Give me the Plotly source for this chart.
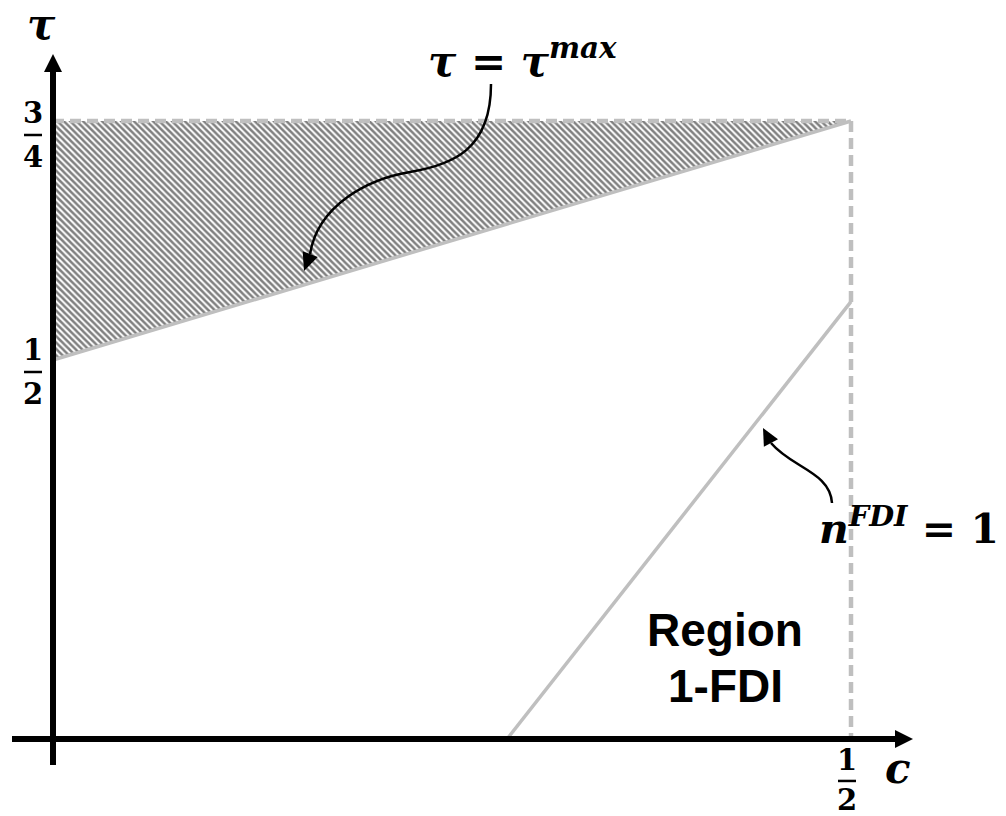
import plotly.graph_objects as go

# ---------------- diagram values: c (horizontal) and tau (vertical) ----------------
tau_axis_level = 0.1036      # tau level at which the c-axis is drawn
c_axis_level = 0.0           # c level at which the tau-axis is drawn

# boundary tau = tau^max
tau_max_c = [0.0, 0.5]
tau_max_tau = [0.5, 0.75]

# boundary n^FDI = 1
nfdi_c = [0.2845, 0.5]
nfdi_tau = [0.1036, 0.561]

# hatched region between tau^max and 3/4
hatch_c = [0.0, 0.5, 0.0, 0.0]
hatch_tau = [0.75, 0.75, 0.5, 0.75]

# tick fractions
c_tick_vals = [0.5]
c_tick_num = ["1"]
c_tick_den = ["2"]
tau_tick_vals = [0.5, 0.75]
tau_tick_num = ["1", "3"]
tau_tick_den = ["2", "4"]

# ---------------- canvas / scale ----------------
W, H = 1006, 816
PX_PER_C = 1596.0
PX_PER_TAU = 956.0
X0_PX = 53.0        # pixel column of c = 0
Y_HALF_PX = 360.0   # pixel row of tau = 1/2

x_range = [-X0_PX / PX_PER_C, (W - X0_PX) / PX_PER_C]
y_range = [0.5 - (H - Y_HALF_PX) / PX_PER_TAU, 0.5 + Y_HALF_PX / PX_PER_TAU]


def to_px(c, t):
    return X0_PX + c * PX_PER_C, Y_HALF_PX - (t - 0.5) * PX_PER_TAU


def to_data(px, py):
    return (px - X0_PX) / PX_PER_C, 0.5 + (Y_HALF_PX - py) / PX_PER_TAU


def pt(px, py):
    c, t = to_data(px, py)
    return f"{c:.5f},{t:.5f}"


def arrow_head(tip, frm, length, half_w):
    tx, ty = tip
    fx, fy = frm
    dx, dy = tx - fx, ty - fy
    n = (dx * dx + dy * dy) ** 0.5
    ux, uy = dx / n, dy / n
    bx, by = tx - ux * length, ty - uy * length
    px_, py_ = -uy, ux
    a = (bx + px_ * half_w, by + py_ * half_w)
    b = (bx - px_ * half_w, by - py_ * half_w)
    return f"M {pt(*tip)} L {pt(*a)} L {pt(*b)} Z"


GRAY = "#bfbfbf"
MATH_FONT = "DejaVu Serif"
SANS_FONT = "Liberation Sans"

fig = go.Figure()

# hatched band above the tau^max boundary
fig.add_trace(go.Scatter(
    x=hatch_c, y=hatch_tau, mode="lines", fill="toself",
    line=dict(width=0, color="rgba(0,0,0,0)"),
    fillcolor="white",
    fillpattern=dict(shape="\\", fgcolor="black", bgcolor="white",
                     size=4.5, solidity=0.55),
    hoverinfo="skip", showlegend=False,
))

# tau = 3/4 cap (dashed) and c = 1/2 limit (dashed)
fig.add_trace(go.Scatter(
    x=[c_axis_level, tau_max_c[1]], y=[tau_max_tau[1], tau_max_tau[1]],
    mode="lines", line=dict(color=GRAY, width=4.5, dash="11px,6px"),
    hoverinfo="skip", showlegend=False,
))
fig.add_trace(go.Scatter(
    x=[c_tick_vals[0], c_tick_vals[0]], y=[tau_max_tau[1], tau_axis_level],
    mode="lines", line=dict(color=GRAY, width=4.5, dash="11px,6px"),
    hoverinfo="skip", showlegend=False,
))

# boundaries
fig.add_trace(go.Scatter(
    x=tau_max_c, y=tau_max_tau, mode="lines",
    line=dict(color=GRAY, width=3.5), hoverinfo="skip", showlegend=False,
))
fig.add_trace(go.Scatter(
    x=nfdi_c, y=nfdi_tau, mode="lines",
    line=dict(color=GRAY, width=3.5), hoverinfo="skip", showlegend=False,
))

shapes = []
annotations = []

# ---- axes with arrowheads ----
ox, oy = to_px(c_axis_level, tau_axis_level)
tau_top_px = to_px(0, tau_tick_vals[-1])[1] - 67
c_right_px = to_px(c_tick_vals[-1], 0)[0] + 62
# tau axis
x0, y0 = to_data(ox, oy + 26)
x1, y1 = to_data(ox, tau_top_px + 16)
shapes.append(dict(type="line", x0=x0, y0=y0, x1=x1, y1=y1,
                   line=dict(color="black", width=6), layer="above"))
shapes.append(dict(type="path", path=arrow_head((ox, tau_top_px), (ox, oy), 18, 9),
                   fillcolor="black", line=dict(width=0), layer="above"))
# c axis
x0, y0 = to_data(ox - 41, oy)
x1, y1 = to_data(c_right_px - 16, oy)
shapes.append(dict(type="line", x0=x0, y0=y0, x1=x1, y1=y1,
                   line=dict(color="black", width=6), layer="above"))
shapes.append(dict(type="path", path=arrow_head((c_right_px, oy), (ox, oy), 18, 9),
                   fillcolor="black", line=dict(width=0), layer="above"))

# ---- tick fractions ----
FRAC = dict(family=MATH_FONT, size=29, color="black", weight="bold")
for v, num, den in zip(tau_tick_vals, tau_tick_num, tau_tick_den):
    cx, cy = to_px(c_axis_level, v)
    cx -= 20
    bar = cy + (14 if v == 0.75 else 12)
    for txt, yy in ((num, bar - 22), (den, bar + 22)):
        ac, at = to_data(cx, yy)
        annotations.append(dict(x=ac, y=at, text=txt, showarrow=False,
                                font=FRAC, xanchor="center", yanchor="middle"))
    bx0, by = to_data(cx - 9, bar)
    bx1, _ = to_data(cx + 9, bar)
    shapes.append(dict(type="line", x0=bx0, x1=bx1, y0=by, y1=by,
                       line=dict(color="black", width=2.5)))

for v, num, den in zip(c_tick_vals, c_tick_num, c_tick_den):
    cx, cy = to_px(v, tau_axis_level)
    cx -= 4
    bar = cy + 42
    for txt, yy in ((num, bar - 21), (den, bar + 19)):
        ac, at = to_data(cx, yy)
        annotations.append(dict(x=ac, y=at, text=txt, showarrow=False,
                                font=FRAC, xanchor="center", yanchor="middle"))
    bx0, by = to_data(cx - 9, bar)
    bx1, _ = to_data(cx + 9, bar)
    shapes.append(dict(type="line", x0=bx0, x1=bx1, y0=by, y1=by,
                       line=dict(color="black", width=2.5)))

# ---- axis titles ----
MATH = dict(family=MATH_FONT, size=42, color="black", weight="bold", style="italic")
ac, at = to_data(41, 24)
annotations.append(dict(x=ac, y=at, text="τ", showarrow=False, font=MATH,
                        xanchor="center", yanchor="middle"))
ac, at = to_data(898, 768)
annotations.append(dict(x=ac, y=at, text="c", showarrow=False, font=MATH,
                        xanchor="center", yanchor="middle"))

# ---- boundary labels ----
ac, at = to_data(522, 58)
annotations.append(dict(x=ac, y=at, text="<i>τ</i> = <i>τ</i><sup><i>max</i></sup>",
                        showarrow=False, xanchor="center", yanchor="middle",
                        font=dict(family=MATH_FONT, size=42, color="black", weight="bold")))
ac, at = to_data(1001, 526)
annotations.append(dict(x=ac, y=at, text="<i>n</i><sup><i>FDI</i></sup> = 1",
                        showarrow=False, xanchor="right", yanchor="middle",
                        font=dict(family=MATH_FONT, size=41, color="black", weight="bold")))

# ---- region name ----
REG = dict(family=SANS_FONT, size=46, color="black", weight="bold")
for txt, yy in (("Region", 630), ("1-FDI", 686)):
    ac, at = to_data(725, yy)
    annotations.append(dict(x=ac, y=at, text=txt, showarrow=False, font=REG,
                            xanchor="center", yanchor="middle"))

# ---- callout arrows ----
curve1 = (f"M {pt(491, 84)} C {pt(491, 150)} {pt(452, 165)} {pt(410, 172)} "
          f"S {pt(318, 205)} {pt(310, 254)}")
shapes.append(dict(type="path", path=curve1, line=dict(color="black", width=2.5)))
shapes.append(dict(type="path", path=arrow_head((304, 271), (311, 252), 18, 8),
                   fillcolor="black", line=dict(width=0)))

curve2 = f"M {pt(832, 503)} C {pt(830, 472)} {pt(792, 468)} {pt(771, 443)}"
shapes.append(dict(type="path", path=curve2, line=dict(color="black", width=2.5)))
shapes.append(dict(type="path", path=arrow_head((763, 428), (772, 445), 17, 8),
                   fillcolor="black", line=dict(width=0)))

fig.update_layout(
    width=W, height=H, autosize=False,
    margin=dict(l=0, r=0, t=0, b=0),
    paper_bgcolor="white", plot_bgcolor="white",
    xaxis=dict(range=x_range, visible=False, fixedrange=True),
    yaxis=dict(range=y_range, visible=False, fixedrange=True),
    shapes=shapes, annotations=annotations, showlegend=False,
)

fig.write_html("out.html")
